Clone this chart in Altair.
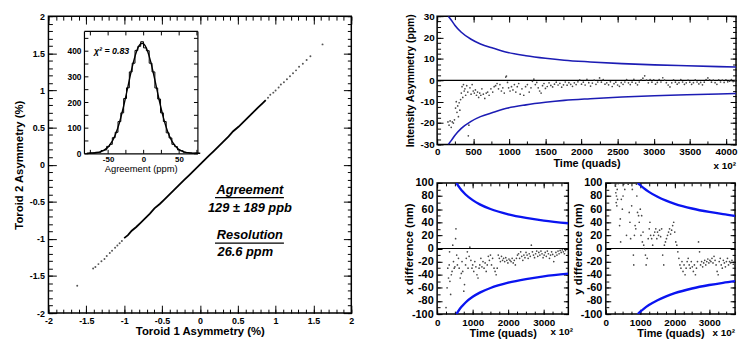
import altair as alt
import pandas as pd

FONT = "Liberation Sans"
MINUS = "replace(datum.label, '\u2212', '-')"

# ---------------- Left panel: Toroid 2 vs Toroid 1 asymmetry (%) ----------------
core_t1 = [-1.00, -0.95, -0.90, -0.84, -0.78, -0.72, -0.66, -0.60, -0.53, -0.47, -0.40,
           -0.34, -0.27, -0.21, -0.14, -0.08, -0.01, 0.05, 0.12, 0.18, 0.25, 0.31,
           0.38, 0.44, 0.51, 0.57, 0.64, 0.70, 0.77, 0.83, 0.87]
core_t2 = [-0.99, -0.95, -0.89, -0.84, -0.78, -0.72, -0.66, -0.59, -0.53, -0.47, -0.40,
           -0.34, -0.27, -0.21, -0.14, -0.08, -0.01, 0.05, 0.12, 0.18, 0.25, 0.31,
           0.38, 0.45, 0.51, 0.57, 0.64, 0.70, 0.77, 0.83, 0.87]
sparse_t1 = [-1.62, -1.41, -1.38, -1.34, -1.30, -1.26, -1.23, -1.19, -1.16, -1.12, -1.09,
             -1.06, -1.03, 0.90, 0.93, 0.97, 1.00, 1.04, 1.07, 1.11, 1.15, 1.19, 1.23,
             1.27, 1.31, 1.36, 1.41, 1.46, 1.62]
sparse_t2 = [-1.63, -1.40, -1.38, -1.34, -1.30, -1.27, -1.23, -1.19, -1.16, -1.12, -1.09,
             -1.06, -1.03, 0.90, 0.94, 0.97, 1.00, 1.04, 1.08, 1.11, 1.15, 1.19, 1.23,
             1.27, 1.32, 1.36, 1.41, 1.46, 1.62]

ann_text = ["Agreement", "129 ± 189 ppb", "Resolution", "26.6 ppm"]
ann_x = [0.66, 0.66, 0.66, 0.60]
ann_y = [-0.34, -0.58, -0.95, -1.18]
bar_x1 = [0.20, 0.20]
bar_x2 = [1.11, 1.11]
bar_y = [-0.445, -1.056]

# inset histogram of agreement (ppm)
hist_c = [-78, -74, -70, -66, -62, -58, -54, -50, -46, -42, -38, -34, -30, -26, -22, -18,
          -14, -10, -6, -2, 2, 6, 10, 14, 18, 22, 26, 30, 34, 38, 42, 46, 50, 54, 58, 62,
          66, 70, 74, 78]
hist_n = [0, 2, 1, 4, 4, 11, 13, 27, 35, 61, 82, 124, 158, 214, 256, 318, 352, 402, 418,
          436, 412, 401, 352, 318, 255, 212, 158, 124, 80, 60, 35, 26, 13, 10, 4, 3, 2, 0,
          1, 0]
fit_x = [-80, -72, -64, -56, -48, -40, -34, -28, -22, -16, -10, -6, -2, 2, 6, 10, 16, 22,
         28, 34, 40, 48, 56, 64, 72, 80]
fit_y = [0.2, 0.9, 3.5, 11.2, 30.5, 70.7, 119.6, 184.7, 260.8, 336.6, 396.9, 421.5, 430.0,
         421.5, 396.9, 359.2, 286.8, 209.3, 139.6, 85.1, 47.5, 18.9, 6.4, 1.8, 0.5, 0.1]
chi_text = ["\u03c7\u00b2 = 0.83"]
chi_x = [-70]
chi_y = [400]

# ---------------- Top right: intensity asymmetry (ppm) vs time ----------------
top_t = [150, 165, 180, 195, 210, 225, 240, 255, 265, 275,
         285, 295, 305, 315, 325, 335, 345, 355, 365, 375,
         385, 395, 410, 425, 432, 440, 455, 470, 485, 500,
         515, 530, 545, 560, 575, 590, 605, 620, 640, 660,
         680, 700, 720, 745, 770, 790, 810, 830, 850, 870,
         890, 910, 930, 950, 960, 975, 990, 1010, 1030, 1050,
         1070, 1090, 1110, 1130, 1150, 1175, 1200, 1225, 1250, 1275,
         1300, 1320, 1340, 1360, 1380, 1400, 1420, 1440, 1460, 1480,
         1500, 1525, 1550, 1575, 1600, 1625, 1650, 1675, 1700, 1725,
         1750, 1775, 1800, 1825, 1850, 1875, 1900, 1925, 1950, 1975,
         2000, 2025, 2050, 2075, 2100, 2125, 2150, 2175, 2200, 2225,
         2250, 2275, 2300, 2325, 2350, 2375, 2400, 2425, 2450, 2475,
         2500, 2525, 2550, 2575, 2600, 2625, 2650, 2675, 2700, 2725,
         2750, 2775, 2800, 2825, 2850, 2875, 2900, 2925, 2950, 2975,
         3000, 3025, 3050, 3075, 3100, 3125, 3150, 3175, 3200, 3225,
         3250, 3275, 3300, 3325, 3350, 3375, 3400, 3425, 3450, 3475,
         3500, 3525, 3550, 3575, 3600, 3625, 3650, 3675, 3700, 3725,
         3750, 3775, 3800, 3825, 3850, 3875, 3900, 3925, 3950, 3975,
         4000, 4025, 4050, 4075, 4100, 4125]
top_a = [-19.5, -21, -19, -22, -19.5, -20, -18.5, -13, -10, -15,
         -12, -17, -10.5, -14, -9, -6, -3, -8, -2, -5,
         -4, -7, -2.5, -5.5, -26, -21, -3.5, -6.5, -2, -5,
         -6, -4.5, -7, -5.5, -8, -6, -7, -4, -6.5, -8.5,
         -6, -5.5, -7, -4, -5.5, -3, -2.5, -1.5, -4, -2,
         -5, -3.5, -6, 1.5, 2, -1, -3.5, -5, -3, -4.5,
         -2, -5.5, -3, -1.5, -6.5, -4, -7, -3, -2, -5.5,
         -3.5, -0.5, 0.5, -2, -1, -3.5, -5, -6, -2.5, -1.5,
         -3.8, -2.9, -1.2, -2.4, -3.1, -1.8, -0.9, -2.2, -1.4, -3.2,
         -2.1, -0.8, -2.3, -1.1, -1.9, -2.8, -1.2, -2.0, -0.7, 0.2,
         -1.8, -0.9, -2.2, 0.4, -1.1, -2.7, -1.3, 0.1, -1.9, -0.8,
         1.1, -0.9, 0.3, -1.8, -1.2, -2.1, -0.7, -2.9, -1.6, -0.9,
         -2.2, -2.8, -1.1, -1.9, -0.8, 0.3, -1.2, -2.0, -0.9, 0.4,
         -1.3, -2.1, -0.8, 0.2, 1.0, 2.1, 0.1, -1.2, 0.3, -0.9,
         0.2, -1.8, -1.0, 0.3, -0.8, 1.2, 0.1, -1.1, -2.2, -3.1,
         -1.2, 0.2, -0.9, -1.8, -1.1, 0.3, -0.8, -1.9, -1.2, 0.1,
         -0.9, -1.9, -1.1, 0.2, -0.8, -1.7, -1.0, -2.1, -0.9, 0.3,
         1.1, 0.2, -0.9, 0.1, -1.1, -1.9, 0.2, -0.8, 0.1, -1.0,
         0.2, -0.7, -0.4, 0.3, -0.6, -0.2]
env_top_t = [155, 200, 245, 335, 470, 600, 780, 980, 1230, 1500, 1760, 2120, 2560, 3010,
             3460, 3900, 4140]
env_top_hi = [30.0, 28.0, 25.8, 22.5, 19.2, 17.0, 15.0, 13.0, 11.5, 10.3, 9.4, 8.6, 7.8,
              7.2, 6.8, 6.4, 6.2]
env_top_lo = [-30.0, -28.0, -25.8, -22.5, -19.2, -17.0, -15.0, -13.0, -11.5, -10.3, -9.4,
              -8.6, -7.8, -7.2, -6.8, -6.4, -6.2]

# ---------------- Bottom left: x difference (nm) ----------------
xd_t = [250, 280, 300, 320, 340, 350, 360, 380, 400, 420,
        440, 460, 480, 500, 520, 530, 550, 570, 600, 620,
        650, 680, 700, 720, 750, 770, 800, 820, 850, 870,
        900, 920, 950, 980, 1000, 1030, 1060, 1090, 1120, 1150,
        1180, 1200, 1230, 1260, 1290, 1320, 1350, 1380, 1410, 1440,
        1470, 1500, 1530, 1560, 1600, 1630, 1660, 1690, 1720, 1750,
        1780, 1810, 1840, 1870, 1900, 1930, 1960, 1990, 2020, 2050,
        2080, 2110, 2140, 2170, 2200, 2230, 2260, 2290, 2320, 2350,
        2380, 2410, 2440, 2470, 2500, 2530, 2560, 2590, 2620, 2650,
        2680, 2710, 2740, 2770, 2800, 2830, 2860, 2890, 2920, 2950,
        2980, 3010, 3040, 3070, 3100, 3130, 3160, 3190, 3220, 3250,
        3280, 3310, 3340, 3370, 3400, 3430, 3460, 3490, 3520, 3550,
        3580, 3610]
xd_v = [-90, -60, -30, -45, -25, -5, -50, -70, -40, -35,
        5, -20, -30, -28, 15, 30, -10, -25, -15, -30,
        -45, -38, -20, -35, -65, -55, -25, -15, -5, -30,
        -12, 2, -18, -30, -25, -35, -20, -28, -40, -45,
        -30, -25, -15, -28, -20, -30, -22, -35, -25, -12,
        -18, -10, -25, -15, -30, -35, -40, -30, -10, -15,
        -20, -12, -18, -15, -20, -14, -18, -22, -16, -18,
        -20, -15, -22, -18, -25, -15, -10, -8, -15, -5,
        -12, -18, -10, -14, -6, -10, -15, -8, -12, 5,
        -5, -10, -14, -8, -4, -12, -6, -10, -4, -8,
        -14, -10, -6, -12, -4, -8, -15, -10, -5, -9,
        -20, -12, -6, -10, -4, -8, -3, -6, -2, -5,
        -8, -3]
env_x_t = [545, 600, 700, 800, 1000, 1200, 1500, 2000, 2500, 3000, 3690]
env_x_hi = [100, 95, 88, 82.3, 73.7, 67.3, 60.2, 52.1, 46.6, 42.5, 38.4]
env_x_lo = [-100, -95, -88, -82.3, -73.7, -67.3, -60.2, -52.1, -46.6, -42.5, -38.4]

# ---------------- Bottom right: y difference (nm) ----------------
yd_t = [280, 290, 300, 305, 310, 320, 330, 340, 360, 400,
        420, 430, 450, 480, 500, 520, 550, 600, 650, 680,
        700, 720, 750, 770, 800, 810, 830, 850, 870, 890,
        900, 920, 950, 970, 1000, 1020, 1040, 1060, 1080, 1100,
        1120, 1150, 1170, 1200, 1230, 1260, 1280, 1300, 1330, 1360,
        1390, 1420, 1450, 1480, 1500, 1530, 1560, 1590, 1620, 1650,
        1680, 1700, 1730, 1760, 1790, 1820, 1850, 1880, 1910, 1940,
        1970, 2000, 2030, 2060, 2090, 2120, 2150, 2180, 2210, 2240,
        2270, 2300, 2330, 2360, 2390, 2420, 2450, 2480, 2510, 2540,
        2570, 2600, 2630, 2660, 2690, 2720, 2750, 2780, 2810, 2840,
        2870, 2900, 2930, 2960, 2990, 3020, 3050, 3080, 3110, 3140,
        3170, 3200, 3230, 3260, 3290, 3320, 3350, 3380, 3410, 3440,
        3470, 3500, 3530, 3560, 3590, 3620, 3660, 3700, 3740, 3760]
yd_v = [95, 85, 70, 99, 80, 65, 90, 75, 99, 35,
        45, 10, 75, 60, 80, 98, 90, 20, 98, 55,
        40, 15, 65, 90, -10, -25, 20, 35, 30, 98,
        80, 55, 50, 40, 60, 20, 50, 10, 25, 5,
        0, -10, -25, -15, 15, 30, 40, 20, 15, 5,
        20, 25, 30, 15, 25, 20, 28, 18, 30, -10,
        -25, 5, 10, 15, 20, 25, 30, 22, 28, 35,
        40, 25, 10, 5, -5, -15, -25, -30, -20, -35,
        -25, -40, -30, -20, -15, -25, -30, -20, -28, -35,
        -25, -40, -30, -20, 10, -5, -25, -20, -28, -22,
        -18, -25, -20, -16, -22, -18, -20, -15, -22, -12,
        -18, -25, -35, -40, -20, -15, -25, -30, -18, -22,
        -28, -20, -15, -25, -20, -22, -18, -24, -20, -26]
env_y_t = [930, 1000, 1100, 1250, 1500, 1750, 2000, 2500, 3000, 3400, 3750]
env_y_hi = [100, 96.4, 92, 86.3, 78.8, 72.9, 68.2, 61, 55.7, 52.3, 49.8]
env_y_lo = [-100, -96.4, -92, -86.3, -78.8, -72.9, -68.2, -61, -55.7, -52.3, -49.8]


# ---------------- helpers ----------------
def sc(domain, rng=None):
    if rng is None:
        return alt.Scale(domain=domain, nice=False, zero=False)
    return alt.Scale(domain=domain, range=rng, nice=False, zero=False)


def frame_layers(df, xf, yf, xs, ys, xmaj, xmin, ymaj, ymin, M, m, xkw, ykw,
                 off=None, domain=False):
    off = off or {"bottom": 0, "left": 0, "top": 0, "right": 0}
    base = alt.Chart(df).mark_point(opacity=0)
    common = dict(grid=False, labelFlush=False, labelOverlap=False, minExtent=0)

    def enc(xo, yo, xv, yv, size, xk, yk, dom):
        return base.encode(
            x=alt.X(f"{xf}:Q", scale=xs, axis=alt.Axis(
                orient=xo, values=xv, tickSize={"expr": str(-size)}, offset=off[xo],
                domain=dom, **common, **xk)),
            y=alt.Y(f"{yf}:Q", scale=ys, axis=alt.Axis(
                orient=yo, values=yv, tickSize={"expr": str(-size)}, offset=off[yo],
                domain=dom, **common, **yk)),
        )

    hide = dict(labels=False, title=None)
    out = [enc("bottom", "left", xmaj, ymaj, M, xkw, ykw, domain),
           enc("top", "right", xmaj, ymaj, M, hide, hide, domain)]
    if xmin is not None:
        out.append(enc("bottom", "left", xmin, ymin, m, hide, hide, False))
        out.append(enc("top", "right", xmin, ymin, m, hide, hide, False))
    return out


def X(f, s):
    return alt.X(f"{f}:Q", scale=s, axis=None)


def Y(f, s):
    return alt.Y(f"{f}:Q", scale=s, axis=None)


def mult_label(px, py, align="left", size=10):
    return alt.Chart(pd.DataFrame({"s": ["x 10\u00b2"]})).mark_text(
        font=FONT, fontSize=size, fontWeight="bold", align=align, baseline="middle",
        color="black").encode(x=alt.value(px), y=alt.value(py), text="s:N")


# ---------------- main panel ----------------
MW, MH = 307, 301
mx, my = sc([-2, 2]), sc([-2, 2])
core_df = pd.DataFrame({"t1": core_t1, "t2": core_t2})
sparse_df = pd.DataFrame({"t1": sparse_t1, "t2": sparse_t2})
ann_df = pd.DataFrame({"x": ann_x, "y": ann_y, "s": ann_text})
bar_df = pd.DataFrame({"x1": bar_x1, "x2": bar_x2, "y": bar_y})

main_line = alt.Chart(core_df).mark_line(color="black", strokeWidth=1.8).encode(
    x=X("t1", mx), y=Y("t2", my))
main_pts = alt.Chart(sparse_df).mark_circle(size=4, color="#555", opacity=1).encode(
    x=X("t1", mx), y=Y("t2", my))
ann = alt.Chart(ann_df).mark_text(font=FONT, fontSize=13, fontWeight="bold",
                                  fontStyle="italic", color="black").encode(
    x=X("x", mx), y=Y("y", my), text="s:N")
bars = alt.Chart(bar_df).mark_rule(color="black", strokeWidth=1.3).encode(
    x=X("x1", mx), x2="x2:Q", y=Y("y", my))

main_xmaj = [-2, -1.5, -1, -0.5, 0, 0.5, 1, 1.5, 2]
main_xmin = [round(-2 + 0.1 * i, 1) for i in range(41)]
main_xkw = dict(title="Toroid 1 Asymmetry (%)", format="~g", labelExpr=MINUS,
                labelFontSize=9, titleFontSize=11.5, labelPadding=12, titlePadding=0)
main_ykw = dict(title="Toroid 2 Asymmetry (%)", format="~g", labelExpr=MINUS,
                labelFontSize=9, titleFontSize=11.5, labelPadding=12, titlePadding=5)
main_inner = alt.layer(
    main_line, main_pts, bars, ann,
    *frame_layers(core_df, "t1", "t2", mx, my, main_xmaj, main_xmin, main_xmaj, main_xmin,
                  8, 4, main_xkw, main_ykw)
).resolve_axis(x="independent", y="independent")

# inset
IX0, IX1, IY0, IY1 = 36, 151, 15, 139
ix = sc([-84, 76], [IX0, IX1])
iy = sc([0, 478], [IY1, IY0])
hist_df = pd.DataFrame({"c": hist_c, "n": hist_n})
fit_df = pd.DataFrame({"c": fit_x, "n": fit_y})
chi_df = pd.DataFrame({"x": chi_x, "y": chi_y, "s": chi_text})
hist = alt.Chart(hist_df).mark_line(interpolate="step", color="black", strokeWidth=1).encode(
    x=X("c", ix), y=Y("n", iy))
fit = alt.Chart(fit_df).mark_line(interpolate="monotone", color="black", strokeWidth=1.4).encode(
    x=X("c", ix), y=Y("n", iy))
chi = alt.Chart(chi_df).mark_text(font=FONT, fontSize=9, fontWeight="bold", fontStyle="italic",
                                  align="left", color="black").encode(
    x=X("x", ix), y=Y("y", iy), text="s:N")
ins_xkw = dict(title="Agreement (ppm)", format="d",
               labelExpr="datum.value % 50 == 0 ? " + MINUS + " : ''",
               labelFontSize=8, titleFontSize=9.5, titleFontWeight="normal",
               labelPadding=6, titlePadding=0.5)
ins_ykw = dict(title=None, format="d",
               labelExpr="datum.value % 100 == 0 ? datum.label : ''",
               labelFontSize=8.5, labelPadding=7)
ins_off = {"bottom": IY1 - MH, "left": -IX0, "top": -IY0, "right": IX1 - MW}
inset_inner = alt.layer(
    hist, fit, chi,
    *frame_layers(hist_df, "c", "n", ix, iy, [-75, -50, -25, 0, 25, 50, 75], None,
                  [0, 50, 100, 150, 200, 250, 300, 350, 400, 450], None, 4, 0,
                  ins_xkw, ins_ykw, off=ins_off, domain=True)
).resolve_axis(x="independent", y="independent")

main = alt.layer(main_inner, inset_inner).resolve_scale(
    x="independent", y="independent").properties(width=MW, height=MH)

# ---------------- top right panel ----------------
TW, TH = 303, 130
tx, ty = sc([0, 4140]), sc([-30, 30])
top_df = pd.DataFrame({"t": top_t, "a": top_a})
envt_df = pd.DataFrame({"t": env_top_t, "hi": env_top_hi, "lo": env_top_lo})
zero_df = pd.DataFrame({"z": [0]})
BLUE_T = "#1c1cb4"
top_layers = [
    alt.Chart(zero_df).mark_rule(color="black", strokeWidth=1.2).encode(y=Y("z", ty)),
    alt.Chart(top_df).mark_circle(size=3, color="#333", opacity=0.9, clip=True).encode(
        x=X("t", tx), y=Y("a", ty)),
    alt.Chart(envt_df).mark_line(color=BLUE_T, strokeWidth=1.6, interpolate="monotone",
                                 clip=True).encode(x=X("t", tx), y=Y("hi", ty)),
    alt.Chart(envt_df).mark_line(color=BLUE_T, strokeWidth=1.6, interpolate="monotone",
                                 clip=True).encode(x=X("t", tx), y=Y("lo", ty)),
    mult_label(TW, TH + 22, align="right"),
]
top_xkw = dict(title="Time (quads)", format="d", labelFontSize=10, titleFontSize=11,
               labelPadding=8, titlePadding=1)
top_ykw = dict(title="Intensity Asymmetry (ppm)", format="d", labelExpr=MINUS,
               labelFontSize=10, titleFontSize=10.5, labelPadding=9, titlePadding=4)
top = alt.layer(
    *top_layers,
    *frame_layers(top_df, "t", "a", tx, ty, list(range(0, 4001, 500)),
                  list(range(0, 4001, 250)), [-30, -20, -10, 0, 10, 20, 30],
                  [-30 + 2.5 * i for i in range(25)], 6, 3.5, top_xkw, top_ykw)
).resolve_axis(x="independent", y="independent").properties(width=TW, height=TH)


# ---------------- bottom panels ----------------
BLUE_B = "#0a14f0"


def diff_panel(t, v, et, ehi, elo, xmax, width, ytitle, mpx, mpy, malign):
    xs, ys = sc([0, xmax]), sc([-100, 100])
    df = pd.DataFrame({"t": t, "v": v})
    edf = pd.DataFrame({"t": et, "hi": ehi, "lo": elo})
    layers = [
        alt.Chart(zero_df).mark_rule(color="black", strokeWidth=1.2).encode(y=Y("z", ys)),
        alt.Chart(df).mark_circle(size=3, color="#333", opacity=0.9, clip=True).encode(
            x=X("t", xs), y=Y("v", ys)),
        alt.Chart(edf).mark_line(color=BLUE_B, strokeWidth=2.4, interpolate="monotone",
                                 clip=True).encode(x=X("t", xs), y=Y("hi", ys)),
        alt.Chart(edf).mark_line(color=BLUE_B, strokeWidth=2.4, interpolate="monotone",
                                 clip=True).encode(x=X("t", xs), y=Y("lo", ys)),
        mult_label(mpx, mpy, align=malign),
    ]
    xkw = dict(title="Time (quads)", format="d", labelFontSize=10, titleFontSize=11,
               labelPadding=9, titlePadding=0)
    ykw = dict(title=ytitle, format="d", labelExpr=MINUS, labelFontSize=11,
               titleFontSize=11.5, labelPadding=9, titlePadding=-3)
    return alt.layer(
        *layers,
        *frame_layers(df, "t", "v", xs, ys, [0, 1000, 2000, 3000],
                      [250 * i for i in range(int(xmax // 250) + 1)],
                      [-100, -80, -60, -40, -20, 0, 20, 40, 60, 80, 100],
                      [-100 + 10 * i for i in range(21)], 5, 3, xkw, ykw)
    ).resolve_axis(x="independent", y="independent").properties(width=width, height=133)


bl = diff_panel(xd_t, xd_v, env_x_t, env_x_hi, env_x_lo, 3690, 133, "x difference (nm)",
                115, 151, "left")
br = diff_panel(yd_t, yd_v, env_y_t, env_y_hi, env_y_lo, 3750, 131, "y difference (nm)",
                131, 152, "right")

right_col = alt.vconcat(top, alt.hconcat(bl, br, spacing=38, bounds="flush"),
                        spacing=39, bounds="flush")

chart = alt.hconcat(main, right_col, spacing=87, bounds="flush").properties(
    padding={"left": 4, "top": 0, "right": 0, "bottom": 0}
).configure_view(stroke="black", strokeWidth=1.5).configure_axis(
    labelFont=FONT, titleFont=FONT, labelFontWeight="bold", titleFontWeight="bold",
    labelColor="black", titleColor="black", tickColor="black", domainColor="black",
    tickWidth=1, domainWidth=1.2, minExtent=0)

chart.save("out.html", embed_options={"renderer": "svg", "actions": False})
